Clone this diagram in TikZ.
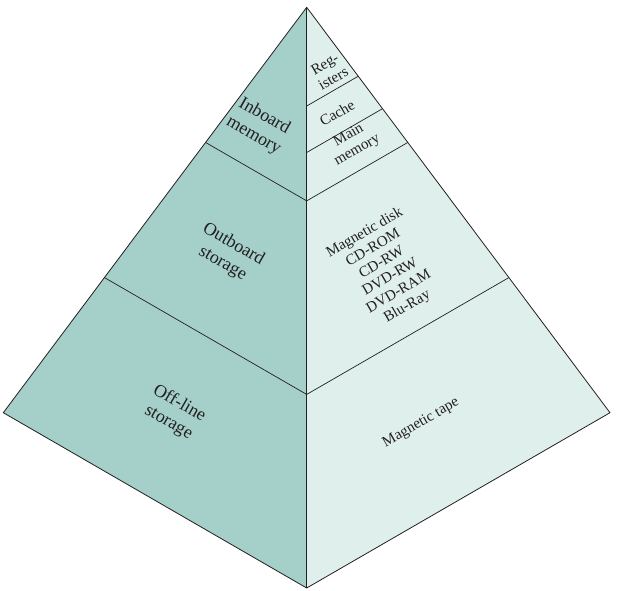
\documentclass[tikz,border=0pt]{standalone}
\usepackage{fontspec}
\setmainfont{Liberation Serif}
\usetikzlibrary{calc}
\definecolor{outer}{HTML}{A4D0C9}
\definecolor{inner}{HTML}{DFF0EC}
\definecolor{ink}{HTML}{231F20}
\tikzset{
  face/.style={draw=ink, line width=0.8pt, line join=round},
  band/.style={draw=ink, line width=0.7pt},
  spine/.style={draw=ink, line width=1.3pt},
  lbl/.style={text=ink, align=center, font=\fontsize{18}{21.5}\selectfont, rotate=-30},
  rbl/.style={text=ink, align=center, font=\fontsize{15}{17}\selectfont, rotate=30},
}
\begin{document}
\begin{tikzpicture}[x=1pt,y=-1pt]
  \useasboundingbox (0,0) rectangle (642,590);
  \coordinate (A) at (306.7,7.3);
  \coordinate (L) at (3.3,412.7);
  \coordinate (R) at (610,412.7);
  \coordinate (B) at (306.7,588);
  \fill[outer] (A)--(L)--(B)--cycle;
  \fill[inner] (A)--(R)--(B)--cycle;
  % level boundaries
  \draw[band] ($(A)!1/3!(L)$) -- ($(A)!1/3!(B)$) -- ($(A)!1/3!(R)$);
  \draw[band] ($(A)!2/3!(L)$) -- ($(A)!2/3!(B)$) -- ($(A)!2/3!(R)$);
  \draw[band] ($(A)!0.17!(B)$) -- ($(A)!0.17!(R)$);
  \draw[band] ($(A)!0.25!(B)$) -- ($(A)!0.25!(R)$);
  \draw[face] (A)--(L)--(B)--(R)--cycle;
  \draw[spine] (A)--(B);
  % left face
  \node[lbl] (inboard) at (259,126) {Inboard\\memory};
  \node[lbl] (outboard) at (228,254) {Outboard\\storage};
  \node[lbl] (offline) at (174,413) {Off-line\\storage};
  % right face
  \node[rbl] (regs) at (329,71) {Reg-\\isters};
  \node[rbl] (cache) at (337,113) {Cache};
  \node[rbl] (mainmem) at (353,143) {Main\\memory};
  \node[rbl] (disks) at (386,270) {Magnetic disk\\CD-ROM\\CD-RW\\DVD-RW\\DVD-RAM\\Blu-Ray};
  \node[rbl] (tape) at (421,423) {Magnetic tape};
\end{tikzpicture}
\end{document}
